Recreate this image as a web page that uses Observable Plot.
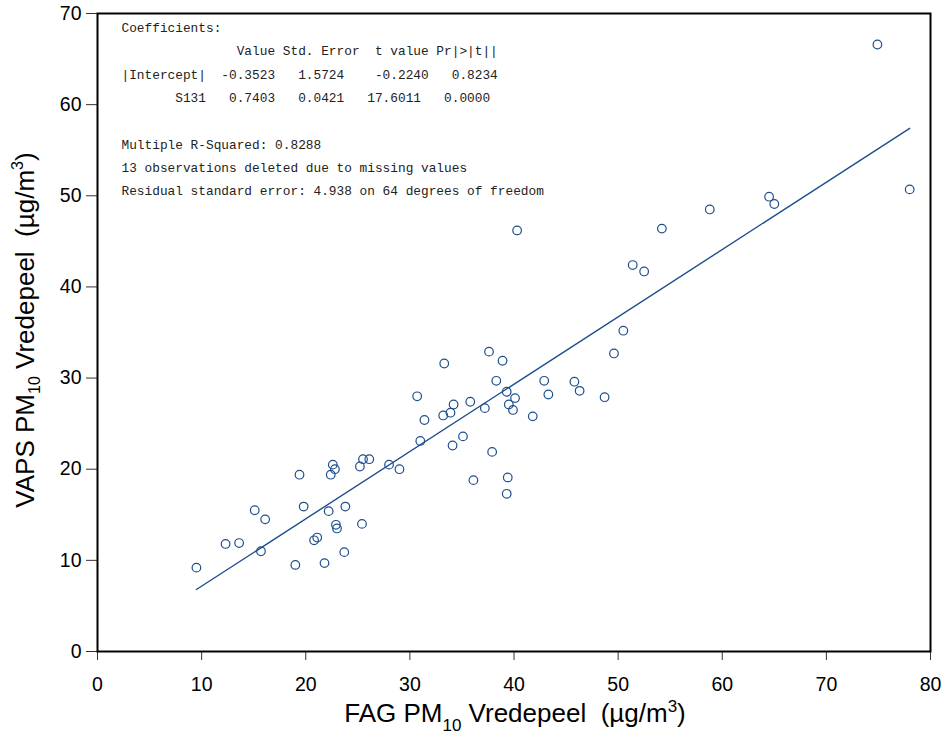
<!DOCTYPE html>
<html>
<head>
<meta charset="utf-8">
<script src="https://cdn.jsdelivr.net/npm/d3@7"></script>
<script src="https://cdn.jsdelivr.net/npm/@observablehq/plot@0.6"></script>
<style>
  html, body { margin: 0; padding: 0; background: #fff; }
  #chart svg { display: block; }
</style>
</head>
<body>
<div id="chart"></div>
<script>
// FAG PM10 (x) and VAPS PM10 (y) at Vredepeel, µg/m3
const fagX = [9.5, 12.3, 13.6, 15.7, 15.1, 16.1, 19.4, 19.8, 19.0, 20.8,
  21.1, 21.8, 22.2, 22.9, 23.0, 23.8, 23.7, 25.4, 22.4, 22.6,
  22.8, 25.2, 25.5, 26.1, 28.0, 29.0, 31.0, 31.4, 30.7, 33.3,
  33.2, 33.9, 34.2, 34.1, 35.1, 35.8, 36.1, 37.2, 37.6, 37.9,
  38.3, 38.9, 39.3, 39.5, 39.9, 40.1, 39.4, 39.3, 41.8, 42.9,
  43.3, 45.8, 46.3, 48.7, 49.6, 50.5, 40.3, 51.4, 52.5, 54.2,
  58.8, 64.5, 65.0, 74.9, 78.0];
const vapsY = [9.2, 11.8, 11.9, 11.0, 15.5, 14.5, 19.4, 15.9, 9.5, 12.2,
  12.5, 9.7, 15.4, 13.9, 13.5, 15.9, 10.9, 14.0, 19.4, 20.5,
  20.0, 20.3, 21.1, 21.1, 20.5, 20.0, 23.1, 25.4, 28.0, 31.6,
  25.9, 26.2, 27.1, 22.6, 23.6, 27.4, 18.8, 26.7, 32.9, 21.9,
  29.7, 31.9, 28.5, 27.1, 26.5, 27.8, 19.1, 17.3, 25.8, 29.7,
  28.2, 29.6, 28.6, 27.9, 32.7, 35.2, 46.2, 42.4, 41.7, 46.4,
  48.5, 49.9, 49.1, 66.6, 50.7];

// fitted regression line end points
const fitX = [9.5, 78.0];
const fitY = [6.8, 57.4];

const xTicks = [0, 10, 20, 30, 40, 50, 60, 70, 80];
const yTicks = [0, 10, 20, 30, 40, 50, 60, 70];

const statLines = [
  "Coefficients:",
  "               Value Std. Error  t value Pr|>|t||",
  "|Intercept|  -0.3523   1.5724    -0.2240   0.8234",
  "       S131   0.7403   0.0421   17.6011   0.0000",
  "",
  "Multiple R-Squared: 0.8288",
  "13 observations deleted due to missing values",
  "Residual standard error: 4.938 on 64 degrees of freedom"
];

const points = fagX.map((x, i) => ({x, y: vapsY[i]}));
const fit = fitX.map((x, i) => ({x, y: fitY[i]}));

const blue = "#1d4f8e";
const narrow = "'Liberation Sans Narrow', 'Liberation Sans', Arial, sans-serif";
const sans = "'Liberation Sans', Arial, sans-serif";

const svg = Plot.plot({
  width: 946,
  height: 736,
  marginLeft: 97,
  marginRight: 16,
  marginTop: 13,
  marginBottom: 85,
  style: {background: "#fff", color: "black", whiteSpace: "pre"},
  x: {domain: [0, 80]},
  y: {domain: [0, 70]},
  marks: [
    Plot.axisY({ticks: yTicks, tickSize: 11, tickPadding: 5, fontSize: 19.5, fontFamily: sans, label: null, strokeWidth: 1, stroke: "#333"}),
    Plot.axisX({ticks: xTicks, tickSize: 9, tickPadding: 17, fontSize: 19.5, fontFamily: sans, label: null, strokeWidth: 1, stroke: "#333"}),
    Plot.line(fit, {x: "x", y: "y", stroke: blue, strokeWidth: 1.4}),
    Plot.dot(points, {x: "x", y: "y", r: 4.3, stroke: blue, strokeWidth: 1.2, fill: "none"}),
    Plot.text([statLines.join("\n")], {
      text: d => d, frameAnchor: "top-left", textAnchor: "start", lineAnchor: "top",
      dx: 24, dy: 2, fontSize: 12.8, lineHeight: 1.82,
      fontFamily: "'Liberation Mono', 'Courier New', monospace", fill: "#222"
    }),
    Plot.frame({stroke: "black", strokeWidth: 2})
  ]
});

const root = d3.select(svg);
// x axis title
const xl = root.append("text")
  .attr("x", 515).attr("y", 722)
  .attr("text-anchor", "middle")
  .attr("font-family", narrow).attr("font-size", 26).attr("fill", "black")
  .style("white-space", "pre");
xl.append("tspan").text("FAG PM");
xl.append("tspan").attr("font-size", 17).attr("dy", 9).text("10");
xl.append("tspan").attr("dy", -9).text(" Vredepeel  (\u00b5g/m");
xl.append("tspan").attr("font-size", 17).attr("dy", -10).text("3");
xl.append("tspan").attr("dy", 10).text(")");

// y axis title
const yl = root.append("text")
  .attr("transform", "translate(34,330) rotate(-90)")
  .attr("text-anchor", "middle")
  .attr("font-family", sans).attr("font-size", 26).attr("fill", "black")
  .style("white-space", "pre");
yl.append("tspan").text("VAPS PM");
yl.append("tspan").attr("font-size", 16).attr("dy", 6).text("10");
yl.append("tspan").attr("dy", -6).text(" Vredepeel  (\u00b5g/m");
yl.append("tspan").attr("font-size", 16).attr("dy", -11).text("3");
yl.append("tspan").attr("dy", 11).text(")");

document.getElementById("chart").appendChild(svg);
</script>
</body>
</html>
